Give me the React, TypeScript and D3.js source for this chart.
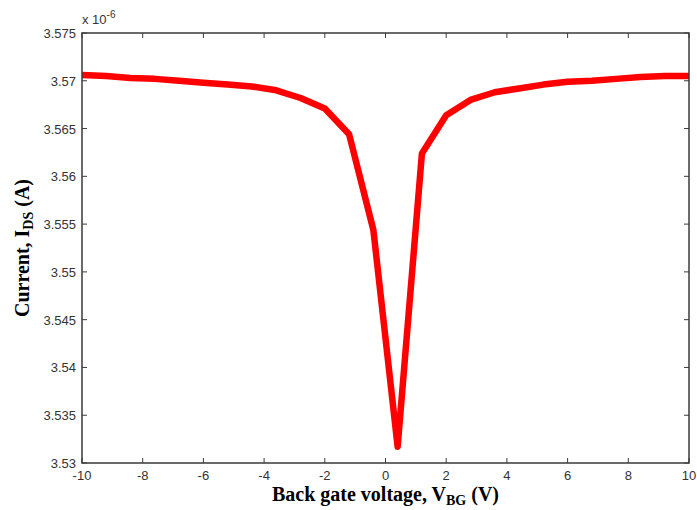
import React from "react";
import * as d3 from "d3";

const voltages = [-10, -9.2, -8.4, -7.6, -6.8, -6.0, -5.2, -4.4, -3.6, -2.8, -2.0, -1.2, -0.4, 0.4, 1.2, 2.0, 2.8, 3.6, 4.4, 5.2, 6.0, 6.8, 7.6, 8.4, 9.2, 10.0];
const currents = [3.5706, 3.5705, 3.5703, 3.5702, 3.57, 3.5698, 3.5696, 3.5694, 3.569, 3.5682, 3.5671, 3.5644, 3.5544, 3.5317, 3.5624, 3.5664, 3.568, 3.5688, 3.5692, 3.5696, 3.5699, 3.57, 3.5702, 3.5704, 3.5705, 3.5705];
const xTicks = [-10, -8, -6, -4, -2, 0, 2, 4, 6, 8, 10];
const yTicks = [3.53, 3.535, 3.54, 3.545, 3.55, 3.555, 3.56, 3.565, 3.57, 3.575];

export default function App() {
  const W = 697, H = 510;
  const L = 82, R = 689, T = 33, B = 463;
  const x = d3.scaleLinear().domain([-10, 10]).range([L, R]);
  const y = d3.scaleLinear().domain([3.53, 3.575]).range([B, T]);
  const data = voltages.map((v, i) => [v, currents[i]] as [number, number]);
  const line = d3.line<[number, number]>().x(d => x(d[0])).y(d => y(d[1]));
  const axisColor = "#3a3a3a";
  const tickLen = 5;
  const fmt = (v: number) => String(+v.toFixed(3));
  return (
    <svg width={W} height={H} style={{ position: "absolute", left: 0, top: 0, background: "#fff" }}>
      <rect x={0} y={0} width={W} height={H} fill="#fff" />
      <path d={line(data) || ""} fill="none" stroke="#ff0000" strokeWidth={6.5} strokeLinejoin="round" />
      {xTicks.map(t => (
        <g key={"x" + t}>
          <line x1={x(t)} x2={x(t)} y1={B} y2={B - tickLen} stroke={axisColor} strokeWidth={1} />
          <line x1={x(t)} x2={x(t)} y1={T} y2={T + tickLen} stroke={axisColor} strokeWidth={1} />
          <text x={x(t)} y={B + 17} textAnchor="middle" fontFamily="Liberation Sans, Arial" fontSize={13} fill="#333">{t}</text>
        </g>
      ))}
      {yTicks.map(t => (
        <g key={"y" + t}>
          <line x1={L} x2={L + tickLen} y1={y(t)} y2={y(t)} stroke={axisColor} strokeWidth={1} />
          <line x1={R} x2={R - tickLen} y1={y(t)} y2={y(t)} stroke={axisColor} strokeWidth={1} />
          <text x={L - 6} y={y(t) + 5} textAnchor="end" fontFamily="Liberation Sans, Arial" fontSize={13} fill="#333">{fmt(t)}</text>
        </g>
      ))}
      <rect x={L} y={T} width={R - L} height={B - T} fill="none" stroke={axisColor} strokeWidth={1.5} />
      <text x={L} y={24} fontFamily="Liberation Sans, Arial" fontSize={13} fill="#333">
        x 10<tspan dy={-6} fontSize={10}>-6</tspan>
      </text>
      <text x={(L + R) / 2} y={501} textAnchor="middle" fontFamily="Liberation Serif, Times New Roman" fontWeight="bold" fontSize={20} fill="#000">
        Back gate voltage, V<tspan dy={4} fontSize={14}>BG</tspan><tspan dy={-4}> (V)</tspan>
      </text>
      <text transform={`translate(29, ${(T + B) / 2}) rotate(-90)`} textAnchor="middle" fontFamily="Liberation Serif, Times New Roman" fontWeight="bold" fontSize={20} fill="#000">
        Current,  I<tspan dy={4} fontSize={14}>DS</tspan><tspan dy={-4}> (A)</tspan>
      </text>
    </svg>
  );
}
